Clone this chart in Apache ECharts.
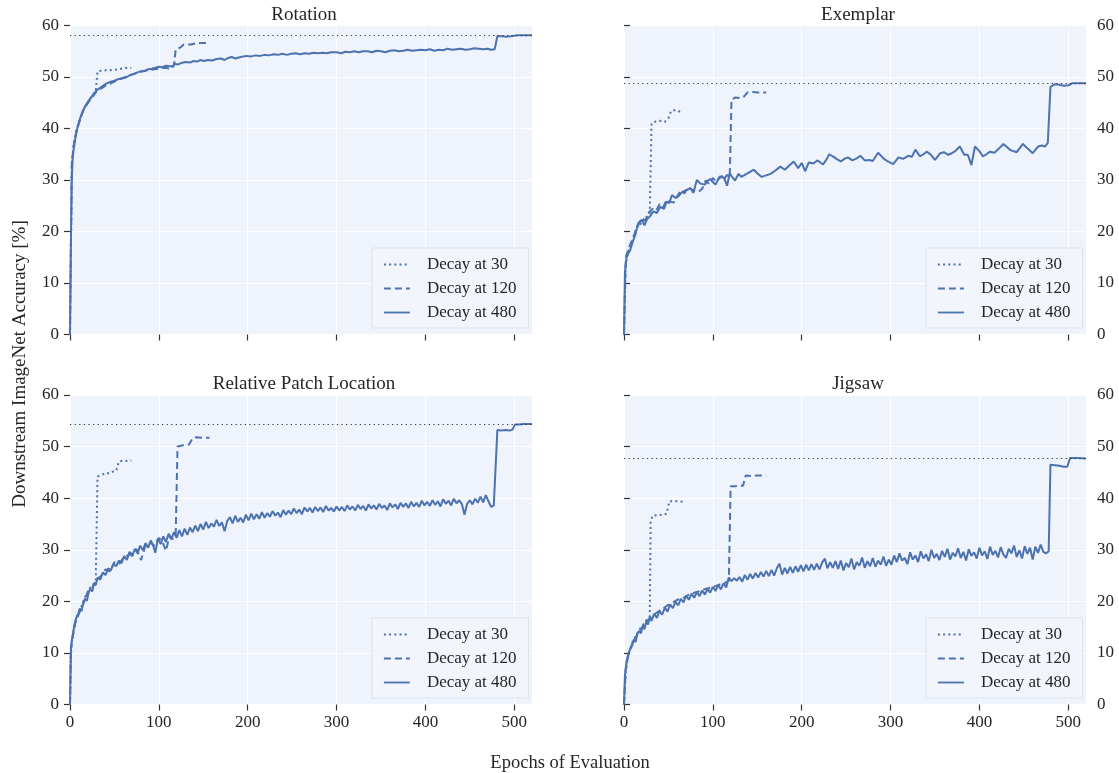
<!DOCTYPE html>
<html>
<head>
<meta charset="utf-8">
<title>Decay schedules</title>
<script src="https://cdn.jsdelivr.net/npm/echarts@6/dist/echarts.min.js"></script>
<style>
  html, body { margin: 0; padding: 0; background: #fff; }
  #main { width: 1119px; height: 773px; }
</style>
</head>
<body>
<div id="main"></div>
<script>
// ---- data, [epoch, accuracy %] ----
var titles = ['Rotation', 'Exemplar', 'Relative Patch Location', 'Jigsaw'];
var seriesNames = ['Decay at 30', 'Decay at 120', 'Decay at 480'];
var xTicks = [0, 100, 200, 300, 400, 500];

// Rotation
var rotDecay30 = [[0,0],[2,33.5],[4,36.8],[7,39.5],[10,41.3],[15,43.6],[20,45.1],[25,46.3],[29,47.3],[31,51.1],[35,51.2],[40,51.3],[45,51.3],[50,51.4],[55,51.5],[60,51.7],[65,51.8],[69,51.8]];
var rotDecay120 = [[0,0],[2,33],[4,36.5],[7,39.3],[10,41],[15,43.5],[20,44.9],[25,46.1],[30,47.2],[40,48.3],[50,49.1],[60,49.8],[70,50.5],[80,51],[90,51.4],[100,51.6],[108,51.8],[113,51.5],[117,52.2],[119,55.4],[124,55.7],[128,56.3],[136,56.3],[143,56.6],[150,56.6],[157,56.6]];
var rotDecay480 = [[0,0],[1,18],[2,30],[3,34.2],[4,35.8],[6,38.1],[8,39.9],[10,41.2],[12,42.3],[15,43.6],[18,44.6],[21,45.4],[24,46.1],[27,46.8],[30,47.4],[34,47.9],[38,48.4],[42,48.8],[46,49.1],[50,49.3],[55,49.6],[60,49.8],[64,50.0],[68,50.4],[72,50.6],[76,50.9],[80,51.1],[84,51.2],[88,51.5],[92,51.6],[96,51.8],[100,52.0],[104,51.9],[108,52.2],[112,52.1],[116,52.1],[118,52.6],[121,52.4],[125,52.7],[130,52.9],[135,52.8],[139,53.1],[143,53.0],[147,53.3],[151,53.1],[155,53.3],[160,53.2],[165,53.5],[170,53.6],[174,53.3],[178,53.7],[182,53.9],[186,53.6],[190,53.8],[195,54.0],[199,54.1],[204,54.0],[209,54.2],[214,54.1],[219,54.3],[224,54.2],[229,54.4],[234,54.3],[239,54.5],[244,54.3],[249,54.5],[254,54.6],[259,54.4],[264,54.6],[269,54.5],[274,54.7],[279,54.6],[284,54.7],[289,54.6],[294,54.8],[300,54.8],[305,54.6],[310,54.9],[315,54.8],[320,55.0],[325,54.8],[330,55.0],[335,55.0],[340,54.8],[345,55.1],[350,55.0],[355,54.8],[360,55.1],[365,55.2],[370,55.0],[375,55.1],[380,55.3],[385,55.1],[390,55.2],[395,55.3],[400,55.2],[405,55.4],[410,55.1],[415,55.3],[420,55.2],[425,55.5],[430,55.3],[435,55.4],[440,55.5],[445,55.3],[450,55.4],[455,55.6],[460,55.5],[465,55.4],[470,55.5],[474,55.3],[478,55.4],[481,57.9],[486,57.9],[491,57.8],[496,57.9],[500,58.0],[504,58.1],[510,58.1],[520,58.1]];
var rotBest = 58.1;

// Exemplar
var exDecay30 = [[0,0],[2,14],[5,16.2],[8,17.5],[11,18.9],[14,20.8],[17,21.6],[20,21.4],[23,22.5],[26,22.9],[29,23.4],[31,41.0],[36,41.4],[42,41.5],[46,41.3],[50,42.0],[53,43.4],[58,43.6],[62,43.3],[66,43.4]];
var exDecay120 = [[0,0],[2,15],[5,16.6],[8,17.9],[12,19.6],[16,21.2],[20,22.6],[24,22.1],[28,23.7],[32,24.4],[36,24.0],[40,25.3],[44,24.7],[48,26.2],[52,25.8],[56,25.6],[60,26.9],[64,28.0],[68,27.4],[72,28.6],[76,28.1],[80,27.9],[84,27.7],[88,28.3],[92,29.9],[96,29.2],[100,30.4],[104,29.6],[108,30.7],[112,30.0],[116,31.0],[119,30.5],[121,45.6],[125,46.0],[130,45.9],[135,46.2],[139,47.0],[145,47.1],[150,47.0],[160,47.0]];
var exDecay480 = [[0,0],[1,12],[3,15.1],[5,15.8],[7,16.4],[10,18.1],[13,19.5],[16,21.6],[20,22.3],[23,21.2],[26,22.4],[29,22.9],[33,23.9],[37,23.6],[41,24.8],[45,24.4],[48,25.8],[51,25.5],[54,27.1],[58,26.5],[61,26.8],[65,27.6],[68,27.9],[71,28.1],[75,28.4],[78,27.5],[82,30.0],[86,29.3],[91,29.1],[94,29.8],[97,30.2],[100,29.6],[103,29.1],[106,30.1],[110,30.8],[113,30.2],[116,28.9],[119,31.3],[122,30.5],[125,29.9],[129,31.2],[132,30.6],[135,30.9],[138,31.2],[142,31.6],[146,32.0],[150,31.3],[155,30.6],[160,30.9],[165,31.2],[170,31.8],[176,32.6],[181,32.0],[186,32.8],[191,33.6],[196,32.3],[200,33.3],[204,31.7],[208,33.4],[213,33.2],[218,33.8],[224,33.0],[228,34.0],[231,35.0],[236,34.5],[240,34.0],[244,33.6],[248,34.1],[252,34.4],[257,33.8],[262,34.2],[266,34.7],[271,33.8],[276,33.9],[280,33.7],[286,35.3],[292,34.2],[297,33.6],[303,33.1],[309,34.4],[314,34.1],[320,34.7],[324,34.5],[328,35.9],[333,34.6],[337,35.0],[341,35.5],[346,34.8],[350,33.9],[356,35.2],[360,35.4],[365,34.9],[369,35.2],[372,35.5],[378,36.5],[383,34.9],[387,34.9],[391,32.9],[395,36.5],[400,35.6],[404,34.6],[408,35.0],[412,35.5],[417,35.3],[422,36.1],[427,37.0],[431,36.4],[435,35.8],[442,35.4],[449,37.0],[455,36.0],[460,35.2],[466,36.5],[470,36.7],[474,36.5],[477,37.2],[480,48.1],[485,48.6],[490,48.5],[495,48.3],[500,48.4],[505,48.8],[510,48.8],[520,48.8]];
var exBest = 48.8;

// Relative Patch Location
var rplDecay30 = [[0,0],[1,9.5],[3,13.8],[5,15.1],[8,17.2],[11,18.2],[14,19.5],[17,20.9],[20,21.3],[23,22.8],[26,23.2],[29,24.1],[31,44.2],[36,44.5],[40,44.9],[44,44.8],[49,45.2],[52,45.3],[55,47.1],[60,47.3],[64,47.2],[69,47.3]];
var rplDecay120 = [[0,0],[1,11],[3,13],[6,15.8],[10,17.6],[15,19.5],[20,21.9],[25,22.6],[30,24.3],[35,24.9],[40,26.2],[45,25.8],[50,27.6],[55,27.2],[60,28.4],[65,28.9],[70,29.3],[75,30.1],[80,28.0],[85,30.9],[90,31.4],[95,30.8],[100,32.3],[104,31.6],[108,29.8],[112,32.7],[116,32.1],[119,33.0],[121,50.0],[126,50.2],[130,50.4],[134,50.4],[138,51.6],[142,51.8],[150,51.7],[157,51.7]];
var rplDecay480 = [[0,0],[1,10.5],[2,12.5],[3,13.2],[5,15.5],[7,16.8],[9,17.4],[11,18.6],[13,18.1],[15,19.8],[17,20.5],[19,20.1],[21,21.8],[23,22.4],[25,21.9],[27,23.5],[29,23.1],[31,24.6],[34,24.2],[37,25.6],[40,25.1],[43,26.4],[46,26.0],[49,27.3],[52,26.8],[55,27.9],[58,27.4],[61,28.8],[64,28.0],[67,29.6],[70,28.7],[73,30.2],[76,29.3],[79,30.8],[82,29.9],[85,31.3],[88,30.4],[91,31.8],[94,30.6],[96,29.4],[99,32.2],[102,31.1],[105,32.6],[108,31.5],[111,33.1],[114,32.0],[117,33.4],[120,32.3],[123,33.8],[126,32.6],[129,34.1],[132,32.9],[135,34.3],[138,33.4],[141,34.7],[144,33.6],[147,35.0],[150,33.9],[153,35.4],[156,34.2],[159,35.1],[162,34.5],[165,35.8],[168,34.6],[171,35.3],[174,33.6],[177,35.6],[180,36.3],[183,35.1],[186,36.6],[189,35.4],[192,36.2],[195,35.3],[198,36.8],[201,35.7],[204,37.0],[207,35.9],[210,36.9],[213,36.0],[216,37.3],[219,36.2],[222,37.1],[225,36.4],[228,37.5],[231,36.6],[234,37.2],[237,36.3],[240,37.7],[243,36.8],[246,37.6],[249,36.9],[252,38.0],[255,37.1],[258,37.8],[261,36.9],[264,38.2],[267,37.4],[270,38.1],[273,37.2],[276,38.3],[279,37.5],[282,38.2],[285,37.3],[288,38.5],[291,37.6],[294,38.1],[297,37.4],[300,38.4],[303,37.6],[306,38.3],[309,37.5],[312,38.6],[315,37.8],[318,38.4],[321,37.6],[324,38.7],[327,37.9],[330,38.5],[333,37.6],[336,38.8],[339,38.0],[342,38.6],[345,37.8],[348,38.9],[351,38.1],[354,38.6],[357,37.7],[360,39.0],[363,38.2],[366,38.8],[369,37.9],[372,39.1],[375,38.3],[378,39.0],[381,38.1],[384,39.3],[387,38.4],[390,39.1],[393,38.3],[396,39.5],[399,38.6],[402,39.3],[405,38.5],[408,39.6],[411,38.7],[414,39.4],[417,38.4],[420,39.8],[423,38.9],[426,39.5],[429,38.6],[432,39.9],[435,39.0],[438,39.6],[441,38.9],[444,36.8],[447,38.9],[450,39.6],[453,38.8],[456,39.9],[459,39.1],[462,40.3],[465,39.2],[468,40.6],[471,39.4],[474,38.3],[477,38.6],[479,38.5],[481,53.2],[485,53.1],[490,53.2],[495,53.1],[498,53.3],[501,54.3],[505,54.3],[510,54.4],[520,54.4]];
var rplBest = 54.4;

// Jigsaw
var jigDecay30 = [[0,0],[2,6.5],[4,9],[7,10.9],[10,12.4],[13,13.1],[16,14.2],[19,14.9],[22,15.6],[25,16.3],[29,17.1],[30,35.5],[32,36.6],[36,36.7],[40,36.8],[44,36.7],[48,37.0],[51,39.4],[56,39.4],[61,39.4],[66,39.3]];
var jigDecay120 = [[0,0],[2,6.8],[5,9.6],[9,11.7],[14,13.3],[19,14.6],[24,15.8],[30,16.9],[36,17.7],[42,18.4],[48,19.1],[54,19.7],[60,20.3],[66,20.6],[72,21.2],[78,21.6],[84,21.9],[90,22.3],[96,22.6],[102,22.9],[108,23.3],[114,23.6],[118,24.0],[120,42.3],[125,42.3],[130,42.5],[134,42.4],[137,44.4],[143,44.3],[150,44.4],[160,44.4]];
var jigDecay480 = [[0,0],[1,5.5],[2,7.2],[3,8.4],[5,9.9],[7,10.8],[9,11.3],[11,12.6],[13,12.1],[15,13.7],[17,14.3],[19,13.8],[21,15.2],[23,14.6],[25,16.1],[27,15.5],[29,16.9],[31,16.2],[34,17.6],[37,16.8],[40,18.1],[43,17.4],[46,18.8],[49,18.0],[52,19.4],[55,18.7],[58,19.9],[61,19.2],[64,20.5],[67,19.8],[70,21.1],[73,20.3],[76,21.5],[79,20.7],[82,21.8],[85,21.0],[88,22.1],[91,21.3],[94,22.4],[97,21.7],[100,22.8],[103,22.0],[106,23.2],[109,22.3],[112,23.5],[115,22.7],[118,24.6],[121,23.9],[124,24.5],[127,24.0],[130,24.7],[133,23.8],[136,25.1],[139,24.2],[142,25.3],[145,24.4],[148,25.5],[151,24.6],[154,25.7],[157,24.8],[160,25.9],[163,24.9],[166,26.1],[169,25.0],[172,26.4],[175,27.3],[178,25.2],[181,26.5],[184,25.4],[187,26.7],[190,25.5],[193,26.8],[196,25.7],[199,27.0],[202,25.8],[205,27.1],[208,26.0],[211,27.2],[214,26.1],[217,27.3],[220,26.2],[223,27.5],[226,28.3],[229,26.4],[232,27.6],[235,26.5],[238,27.8],[241,26.3],[244,27.9],[247,26.0],[250,27.4],[253,26.6],[256,28.3],[259,26.2],[262,27.6],[265,26.9],[268,28.5],[271,26.5],[274,27.8],[277,26.8],[280,28.4],[283,26.7],[286,27.9],[289,27.1],[292,28.7],[295,26.9],[298,28.1],[301,27.1],[304,28.9],[307,27.6],[310,29.3],[313,27.9],[316,28.4],[319,27.2],[322,29.5],[325,28.1],[328,28.9],[331,27.6],[334,29.7],[337,28.3],[340,29.1],[343,27.8],[346,30.0],[349,28.4],[352,29.2],[355,28.0],[358,29.8],[361,28.6],[364,30.2],[367,28.1],[370,29.4],[373,28.7],[376,30.3],[379,28.4],[382,29.6],[385,27.9],[388,30.1],[391,28.8],[394,29.5],[397,28.3],[400,30.4],[403,28.9],[406,29.7],[409,28.2],[412,30.6],[415,29.0],[418,29.8],[421,28.5],[424,30.5],[427,29.1],[430,28.4],[433,30.2],[436,29.3],[439,30.8],[442,28.6],[445,29.9],[448,28.3],[451,30.7],[454,29.2],[457,30.4],[460,28.1],[463,30.6],[466,29.4],[469,31.0],[472,29.6],[475,29.3],[478,29.7],[480,46.5],[485,46.4],[490,46.3],[495,46.1],[499,46.1],[502,47.8],[510,47.8],[520,47.7]];
var jigBest = 47.8;

var panelData = [
  [rotDecay30, rotDecay120, rotDecay480, rotBest],
  [exDecay30, exDecay120, exDecay480, exBest],
  [rplDecay30, rplDecay120, rplDecay480, rplBest],
  [jigDecay30, jigDecay120, jigDecay480, jigBest]
];

// ---- styling ----
var FONT = '"Liberation Serif", "DejaVu Serif", serif';
var INK = '#262626';
var BLUE = '#4c72b0';
var lineTypes = [[2, 3.2], [7, 4], 'solid'];

// pixel layout of the four panels
var grids = [
  { left: 70,  top: 25.5, width: 462, height: 309 },
  { left: 624, top: 25.5, width: 462, height: 309 },
  { left: 70,  top: 395,  width: 462, height: 309.5 },
  { left: 624, top: 395,  width: 462, height: 309.5 }
];
var legendPos = [[372, 248], [926, 248], [372, 618], [926, 618]];

var option = {
  animation: false,
  backgroundColor: '#ffffff',
  title: [],
  legend: [],
  grid: [],
  xAxis: [],
  yAxis: [],
  series: [],
  graphic: [
    {
      type: 'text', x: 20, y: 364, rotation: Math.PI / 2,
      style: { text: 'Downstream ImageNet Accuracy [%]', font: '19px ' + FONT, fill: INK, align: 'center', verticalAlign: 'middle' }
    },
    {
      type: 'text', x: 570, y: 763,
      style: { text: 'Epochs of Evaluation', font: '18.5px ' + FONT, fill: INK, align: 'center', verticalAlign: 'middle' }
    }
  ]
};

for (var i = 0; i < 4; i++) {
  var g = grids[i];
  var isRight = (i % 2 === 1);
  var isBottom = (i >= 2);

  option.grid.push({
    left: g.left, top: g.top, width: g.width, height: g.height,
    show: true, backgroundColor: '#eff3fb', borderWidth: 0
  });

  option.title.push({
    text: titles[i],
    left: g.left + g.width / 2 - 2,
    top: g.top - 25,
    textAlign: 'center',
    textStyle: { fontFamily: FONT, fontSize: 19, fontWeight: 'normal', color: INK }
  });

  option.xAxis.push({
    type: 'value', gridIndex: i, min: 0, max: 520,
    axisLine: { show: false },
    axisTick: { show: true, length: 6, customValues: xTicks, lineStyle: { color: '#333', width: 1.2 } },
    axisLabel: { show: isBottom, customValues: xTicks, margin: 10, fontFamily: FONT, fontSize: 17, color: INK },
    splitLine: { show: true, lineStyle: { color: '#ffffff', width: 1 } }
  });

  option.yAxis.push({
    type: 'value', gridIndex: i, min: 0, max: 60, interval: 10,
    position: isRight ? 'right' : 'left',
    axisLine: { show: false },
    axisTick: { show: true, length: 6, lineStyle: { color: '#333', width: 1.2 } },
    axisLabel: { margin: 11, fontFamily: FONT, fontSize: 17, color: INK },
    splitLine: { show: true, lineStyle: { color: '#ffffff', width: 1 } }
  });

  option.legend.push({
    orient: 'vertical',
    left: legendPos[i][0], top: legendPos[i][1],
    padding: [7, 12, 6, 11],
    itemWidth: 26, itemHeight: 12, itemGap: 5,
    backgroundColor: '#f2f5fc', borderColor: '#dde2eb', borderWidth: 1,
    itemStyle: { opacity: 0 },   // hide the marker dot, keep the line sample
    lineStyle: { width: 1.8 },
    textStyle: { fontFamily: FONT, fontSize: 17, color: INK, lineHeight: 19, padding: [0, 0, 0, 12] },
    data: seriesNames
  });

  for (var k = 0; k < 3; k++) {
    var s = {
      name: seriesNames[k],
      type: 'line',
      xAxisIndex: i, yAxisIndex: i,
      data: panelData[i][k],
      showSymbol: false, symbol: 'none',
      lineStyle: { color: BLUE, width: 2, type: lineTypes[k] },
      itemStyle: { color: BLUE },
      z: 3 - k
    };
    if (k === 2) {
      // best accuracy reference line
      s.markLine = {
        silent: true, symbol: 'none', label: { show: false },
        lineStyle: { color: '#333', width: 1.1, type: [1.2, 3.4] },
        data: [{ yAxis: panelData[i][3] }]
      };
    }
    option.series.push(s);
  }
}

var myChart = echarts.init(document.getElementById('main'));
myChart.setOption(option);
</script>
</body>
</html>
